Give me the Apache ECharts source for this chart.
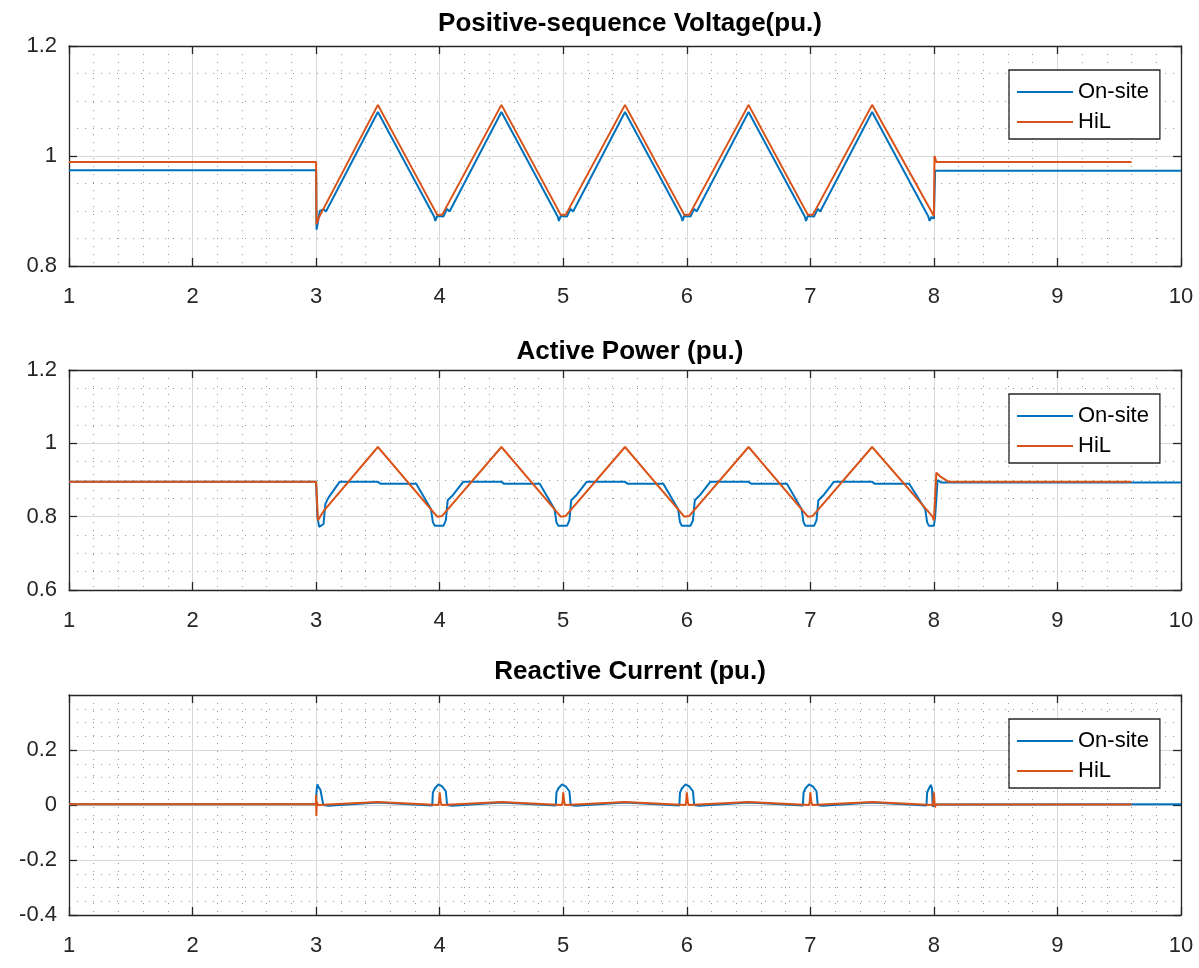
<!DOCTYPE html>
<html>
<head>
<meta charset="utf-8">
<script src="https://cdn.jsdelivr.net/npm/echarts@6/dist/echarts.min.js"></script>
<style>
  html, body { margin: 0; padding: 0; background: #fff; }
  #main { width: 1199px; height: 968px; }
</style>
</head>
<body>
<div id="main"></div>
<script>
// [time (s), value (pu.)]
var voltOnsite = [
  [1.0, 0.974], [3.0, 0.974], [3.004, 0.866], [3.03, 0.9], [3.06, 0.903], [3.08, 0.899], [3.5, 1.08],
  [3.955, 0.89], [3.965, 0.882], [3.98, 0.891], [4.03, 0.89], [4.06, 0.904], [4.08, 0.899], [4.5, 1.08],
  [4.955, 0.89], [4.965, 0.882], [4.98, 0.891], [5.03, 0.89], [5.06, 0.904], [5.08, 0.899], [5.5, 1.08],
  [5.955, 0.89], [5.965, 0.882], [5.98, 0.891], [6.03, 0.89], [6.06, 0.904], [6.08, 0.899], [6.5, 1.08],
  [6.955, 0.89], [6.965, 0.882], [6.98, 0.891], [7.03, 0.89], [7.06, 0.904], [7.08, 0.899], [7.5, 1.08],
  [7.955, 0.89], [7.965, 0.882], [7.98, 0.889], [8.0, 0.886], [8.01, 0.973], [10.0, 0.973]
];
var voltHil = [
  [1.0, 0.989], [3.0, 0.989], [3.003, 0.876], [3.02, 0.887], [3.5, 1.093],
  [3.98, 0.893], [4.02, 0.893], [4.5, 1.093],
  [4.98, 0.893], [5.02, 0.893], [5.5, 1.093],
  [5.98, 0.893], [6.02, 0.893], [6.5, 1.093],
  [6.98, 0.893], [7.02, 0.893], [7.5, 1.093],
  [8.0, 0.891], [8.005, 1.0], [8.02, 0.989], [9.6, 0.989]
];
var powerOnsite = [
  [1.0, 0.895], [3.0, 0.895], [3.01, 0.8], [3.025, 0.772], [3.04, 0.768], [3.06, 0.78], [3.075, 0.835], [3.1, 0.852], [3.19, 0.895], [3.5, 0.895], [3.52, 0.89],
  [3.81, 0.89], [3.93, 0.82], [3.945, 0.785], [3.96, 0.775], [4.03, 0.775], [4.05, 0.79], [4.065, 0.845], [4.11, 0.86], [4.19, 0.895], [4.5, 0.895], [4.52, 0.89],
  [4.81, 0.89], [4.93, 0.82], [4.945, 0.785], [4.96, 0.775], [5.03, 0.775], [5.05, 0.79], [5.065, 0.845], [5.11, 0.86], [5.19, 0.895], [5.5, 0.895], [5.52, 0.89],
  [5.81, 0.89], [5.93, 0.82], [5.945, 0.785], [5.96, 0.775], [6.03, 0.775], [6.05, 0.79], [6.065, 0.845], [6.11, 0.86], [6.19, 0.895], [6.5, 0.895], [6.52, 0.89],
  [6.81, 0.89], [6.93, 0.82], [6.945, 0.785], [6.96, 0.775], [7.03, 0.775], [7.05, 0.79], [7.065, 0.845], [7.11, 0.86], [7.19, 0.895], [7.5, 0.895], [7.52, 0.89],
  [7.8, 0.89], [7.93, 0.82], [7.945, 0.785], [7.96, 0.775], [8.0, 0.775], [8.01, 0.8], [8.03, 0.9], [8.06, 0.893], [10.0, 0.893]
];
var powerHil = [
  [1.0, 0.895], [3.0, 0.895], [3.015, 0.79], [3.03, 0.792], [3.06, 0.815], [3.5, 0.99],
  [3.98, 0.8], [4.02, 0.802], [4.5, 0.99],
  [4.98, 0.8], [5.02, 0.802], [5.5, 0.99],
  [5.98, 0.8], [6.02, 0.802], [6.5, 0.99],
  [6.98, 0.8], [7.02, 0.802], [7.5, 0.99],
  [7.99, 0.8], [8.0, 0.79], [8.02, 0.92], [8.05, 0.91], [8.12, 0.895], [9.6, 0.895]
];
var currOnsite = [
  [1.0, 0.003], [3.0, 0.003], [3.003, 0.05], [3.01, 0.075], [3.02, 0.065], [3.035, 0.055], [3.05, 0.05], [3.058, 0.0], [3.065, -0.006], [3.1, -0.003], [3.5, 0.009],
  [3.94, -0.002], [3.945, 0.045], [3.96, 0.06], [3.99, 0.075], [4.02, 0.068], [4.05, 0.05], [4.06, 0.0], [4.07, -0.006], [4.1, -0.003], [4.5, 0.009],
  [4.94, -0.002], [4.945, 0.045], [4.96, 0.06], [4.99, 0.075], [5.02, 0.068], [5.05, 0.05], [5.06, 0.0], [5.07, -0.006], [5.1, -0.003], [5.5, 0.009],
  [5.94, -0.002], [5.945, 0.045], [5.96, 0.06], [5.99, 0.075], [6.02, 0.068], [6.05, 0.05], [6.06, 0.0], [6.07, -0.006], [6.1, -0.003], [6.5, 0.009],
  [6.94, -0.002], [6.945, 0.045], [6.96, 0.06], [6.99, 0.075], [7.02, 0.068], [7.05, 0.05], [7.06, 0.0], [7.07, -0.006], [7.1, -0.003], [7.5, 0.009],
  [7.94, -0.002], [7.945, 0.045], [7.96, 0.06], [7.975, 0.073], [7.985, 0.06], [7.99, -0.005], [8.02, 0.002], [10.0, 0.003]
];
var currHil = [
  [1.0, 0.003], [2.998, 0.003], [3.0, 0.036], [3.002, -0.04], [3.006, 0.012], [3.015, 0.0], [3.5, 0.011],
  [3.99, 0.0], [3.995, 0.012], [4.0, 0.046], [4.008, 0.012], [4.015, 0.0], [4.5, 0.011],
  [4.99, 0.0], [4.995, 0.012], [5.0, 0.046], [5.008, 0.012], [5.015, 0.0], [5.5, 0.011],
  [5.99, 0.0], [5.995, 0.012], [6.0, 0.046], [6.008, 0.012], [6.015, 0.0], [6.5, 0.011],
  [6.99, 0.0], [6.995, 0.012], [7.0, 0.046], [7.008, 0.012], [7.015, 0.0], [7.5, 0.011],
  [7.99, 0.0], [7.995, 0.012], [8.0, 0.046], [8.008, -0.008], [8.02, 0.002], [9.6, 0.002]
];

var titles = ['Positive-sequence Voltage(pu.)', 'Active Power (pu.)', 'Reactive Current (pu.)'];
var legendNames = ['On-site', 'HiL'];
var yRanges = [[0.8, 1.2], [0.6, 1.2], [-0.4, 0.4]];
var xRange = [1, 10];

var blue = '#0072BD', orange = '#D95319';
var gridTops = [46, 370, 695];
var titleCenters = [22, 350, 670];
var font = 'Liberation Sans, Arial, Helvetica, sans-serif';
var axisColor = '#262626';

var chart = echarts.init(document.getElementById('main'));

var grids = [], xAxes = [], yAxes = [], legends = [], titleList = [], series = [];
var pairs = [[voltOnsite, voltHil], [powerOnsite, powerHil], [currOnsite, currHil]];

function edgeLine() {
    return { show: true, onZero: false, lineStyle: { color: axisColor, width: 1.3 } };
}
function edgeTick() {
    return { show: true, inside: true, length: 8, lineStyle: { color: axisColor, width: 1.3 } };
}

for (var i = 0; i < 3; i++) {
    grids.push({ left: 69, width: 1112, top: gridTops[i], height: 220, show: false });
    titleList.push({
        text: titles[i], left: 625, top: titleCenters[i] - 16, textAlign: 'center',
        textStyle: { fontFamily: font, fontSize: 26, lineHeight: 26, fontWeight: 'bold', color: '#000' }
    });
    // bottom x axis with labels and grid
    xAxes.push({
        type: 'value', gridIndex: i, min: xRange[0], max: xRange[1], interval: 1, position: 'bottom',
        axisLine: edgeLine(), axisTick: edgeTick(),
        axisLabel: { show: true, margin: 20, color: axisColor, fontSize: 22, fontFamily: font },
        splitLine: { show: true, lineStyle: { color: '#d8d8d8', width: 1 } },
        minorTick: { show: false, splitNumber: 5 },
        minorSplitLine: { show: true, lineStyle: { color: '#999', width: 1, type: [1, 7] } }
    });
    // top x axis: box edge + ticks only
    xAxes.push({
        type: 'value', gridIndex: i, min: xRange[0], max: xRange[1], interval: 1, position: 'top',
        axisLine: edgeLine(), axisTick: edgeTick(),
        axisLabel: { show: false }, splitLine: { show: false }
    });
    yAxes.push({
        type: 'value', gridIndex: i, min: yRanges[i][0], max: yRanges[i][1], interval: 0.2, position: 'left',
        axisLine: edgeLine(), axisTick: edgeTick(),
        axisLabel: { show: true, margin: 12, color: axisColor, fontSize: 22, fontFamily: font, showMaxLabel: i !== 2 },
        splitLine: { show: true, lineStyle: { color: '#d8d8d8', width: 1 } },
        minorTick: { show: false, splitNumber: 4 },
        minorSplitLine: { show: true, lineStyle: { color: '#999', width: 1, type: [1, 7] } }
    });
    yAxes.push({
        type: 'value', gridIndex: i, min: yRanges[i][0], max: yRanges[i][1], interval: 0.2, position: 'right',
        axisLine: edgeLine(), axisTick: edgeTick(),
        axisLabel: { show: false }, splitLine: { show: false }
    });
    legends.push({
        data: legendNames, orient: 'vertical', left: 1009, top: gridTops[i] + 24,
        icon: 'rect', itemWidth: 56, itemHeight: 2, itemGap: 8,
        padding: [11, 11, 6, 8],
        backgroundColor: '#fff', borderColor: axisColor, borderWidth: 1.3,
        textStyle: { fontFamily: font, fontSize: 22, lineHeight: 22, color: '#000' },
        selectedMode: false
    });
    series.push({
        name: legendNames[0], type: 'line', xAxisIndex: 2 * i, yAxisIndex: 2 * i,
        data: pairs[i][0], showSymbol: false, symbol: 'none',
        lineStyle: { color: blue, width: 2 }, itemStyle: { color: blue }
    });
    series.push({
        name: legendNames[1], type: 'line', xAxisIndex: 2 * i, yAxisIndex: 2 * i,
        data: pairs[i][1], showSymbol: false, symbol: 'none',
        lineStyle: { color: orange, width: 2 }, itemStyle: { color: orange }
    });
}

chart.setOption({
    backgroundColor: '#fff',
    animation: false,
    title: titleList,
    grid: grids,
    xAxis: xAxes,
    yAxis: yAxes,
    legend: legends,
    series: series
});
</script>
</body>
</html>
